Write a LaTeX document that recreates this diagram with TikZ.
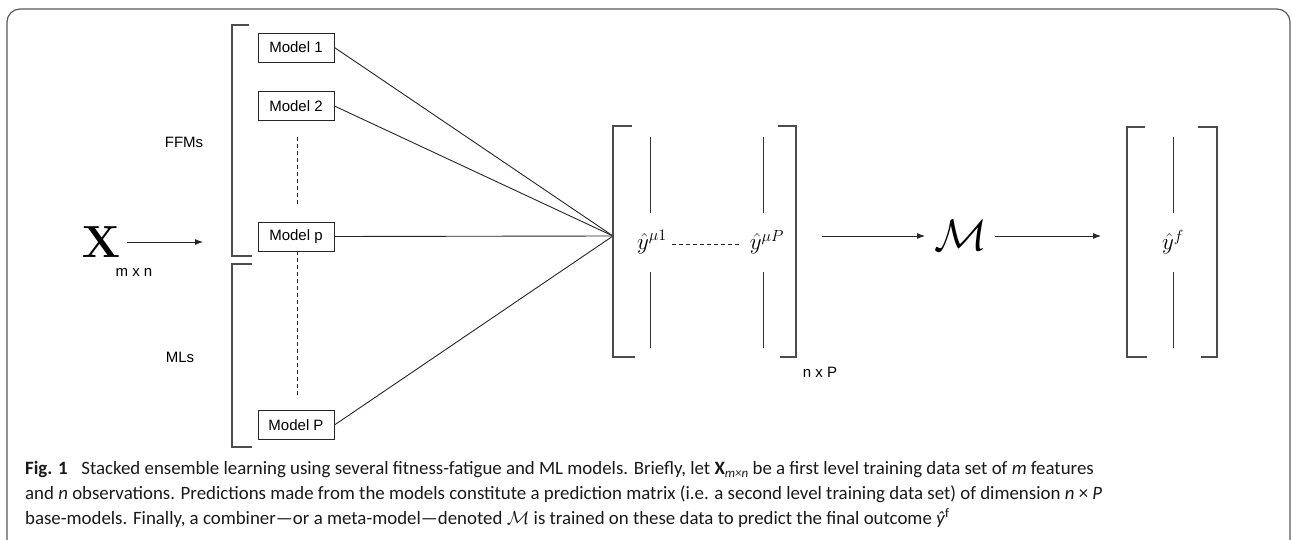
\documentclass[tikz,border=0pt]{standalone}
\usepackage{fix-cm}
\usepackage[no-math]{fontspec}
\usepackage{amsmath}
\setmainfont{Carlito}
\newfontfamily\arialfont{Liberation Sans}
\usetikzlibrary{arrows.meta}
\begin{document}
\begin{tikzpicture}[x=1pt,y=-1pt,
  box/.style={draw=black!85,line width=0.9pt,minimum width=76pt,minimum height=29pt,inner sep=0pt,font=\arialfont\fontsize{15}{17}\selectfont},
  lbl/.style={inner sep=0pt,font=\arialfont\fontsize{15}{17}\selectfont},
  conn/.style={draw=black!85,line width=0.9pt},
  brk/.style={draw=black!70,line width=1.3pt},
  colline/.style={draw=black!80,line width=0.9pt},
  dashline/.style={draw=black!85,line width=0.9pt,dash pattern=on 4pt off 3pt},
  arr/.style={draw=black!85,line width=0.9pt,-{Latex[length=8pt,width=6pt]}},
  captxt/.style={anchor=base west,inner sep=0pt,font=\fontsize{18.85}{22}\selectfont,text=black!90},
  mth/.style={inner sep=0pt}
]
\useasboundingbox (0,0) rectangle (1292,540);
% frame
\draw[draw=black!65,line width=1.2pt,rounded corners=13pt] (7,545) -- (7,9) -- (1290,9) -- (1290,545);

% input
\node[mth,anchor=base] (X) at (101,257) {\fontsize{45}{50}\selectfont$\mathbf{X}$};
\node[lbl] (mxn) at (134,272) {m x n};
\coordinate (xend) at (203,242);
\draw[arr] (127,242) -- (xend);

% group brackets
\draw[brk] (249,25) -- (232,25) -- (232,256) -- (252,256);
\draw[brk] (252,264) -- (232,264) -- (232,447) -- (252,447);
\node[lbl] (ffm) at (184,142) {FFMs};
\node[lbl] (mls) at (180,357) {MLs};

% models
\node[box] (m1) at (296,47.5) {Model 1};
\node[box] (m2) at (296,106) {Model 2};
\node[box] (mp) at (296,236.5) {Model p};
\node[box] (mP) at (296,425) {Model P};
\coordinate (d1a) at (297,137);
\coordinate (d1b) at (297,204);
\coordinate (d2b) at (297,398);
\draw[dashline] (d1a) -- (d1b);
\draw[dashline] (mp.south -| d1a) -- (d2b);

% convergence
\coordinate (conv) at (613,236);
\draw[conn] (m1.east) -- (conv);
\draw[conn] (m2.east) -- (conv);
\draw[conn] (mp.east) -- (conv);
\draw[conn] (mP.east) -- (conv);

% prediction matrix
\draw[brk] (632,126) -- (613,126) -- (613,357) -- (635,357);
\draw[brk] (778,126) -- (796,126) -- (796,357) -- (780,357);
\draw[colline] (650,137) -- (650,213);
\draw[colline] (650,272) -- (650,348);
\draw[colline] (763,137) -- (763,213);
\draw[colline] (763,272) -- (763,348);
\node[mth] (y1) at (652,242) {\fontsize{23}{26}\selectfont$\hat{y}^{\mu 1}$};
\node[mth] (yP) at (767,242) {\fontsize{23}{26}\selectfont$\hat{y}^{\mu P}$};
\draw[dashline] (672,244) -- (741,244);
\node[lbl] (nxp) at (820,372) {n x P};

% meta model
\node[mth] (M) at (961,235) {\fontsize{44}{48}\selectfont$\mathcal{M}$};
\coordinate (a1s) at (822,236);
\coordinate (a1e) at (925,236);
\draw[arr] (a1s) -- (a1e);
\coordinate (a2s) at (995,236);
\coordinate (a2e) at (1101,236);
\draw[arr] (a2s) -- (a2e);

% final
\draw[brk] (1145,127) -- (1127,127) -- (1127,357) -- (1147,357);
\draw[brk] (1198,127) -- (1217,127) -- (1217,357) -- (1201,357);
\draw[colline] (1173,137) -- (1173,213);
\draw[colline] (1173,272) -- (1173,348);
\node[mth] (yf) at (1173,242) {\fontsize{23}{26}\selectfont$\hat{y}^{f}$};

% caption
\node[captxt] (c1) at (25,474) {\textbf{Fig. 1}\hspace{0.5em} Stacked ensemble learning using several fitness-fatigue and ML models. Briefly, let \textbf{X}\raisebox{-0.35ex}{\fontsize{13}{14}\selectfont\itshape m×n} be a first level training data set of \textit{m} features};
\node[captxt] (c2) at (25,499) {and \textit{n} observations. Predictions made from the models constitute a prediction matrix (i.e. a second level training data set) of dimension \textit{n} × \textit{P}};
\node[captxt] (c3) at (25,524) {base-models. Finally, a combiner—or a meta-model—denoted $\mathcal{M}$ is trained on these data to predict the final outcome \textit{ŷ}\textsuperscript{f}};
\end{tikzpicture}
\end{document}
